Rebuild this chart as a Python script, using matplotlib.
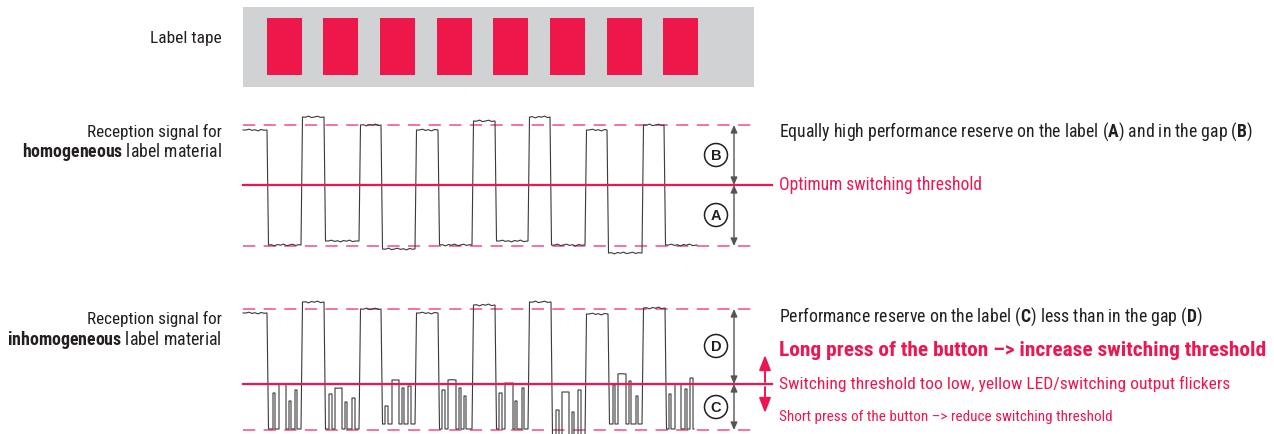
import matplotlib
matplotlib.use('Agg')
import matplotlib.pyplot as plt
from matplotlib import font_manager
from matplotlib.patches import Rectangle, Circle

# Schrift: schmale Helvetica-Variante, falls vorhanden
names = {f.name for f in font_manager.fontManager.ttflist}
FONT = next((n for n in ['Liberation Sans Narrow', 'Roboto Condensed', 'Roboto'] if n in names),
            'Liberation Sans')
plt.rcParams['font.family'] = [FONT, 'DejaVu Sans']
plt.rcParams['mathtext.fontset'] = 'custom'
plt.rcParams['mathtext.rm'] = FONT
plt.rcParams['mathtext.bf'] = FONT + ':bold'

RED = '#EE1651'
RED_DASH = '#F0507A'
BLACK = '#231F20'
GREY_TAPE = '#D1D2D4'
GREY_DIM = '#555555'

# ---- Daten (Pixelkoordinaten des Schemas) ----
tape_x = [243, 754]
tape_y = [8, 88]
label_left = [267, 323, 380, 437, 493, 550, 607, 663]
label_width = 35
label_y = [19, 76]

# homogenes Material: Stufen (x, Pegel)
homog_x = [243, 267, 301, 324, 359, 381, 415, 438, 472, 495, 528, 550, 585, 607, 642, 664]
homog_y = [131, 246, 118, 242, 126, 250, 131, 246, 122, 242, 118, 246, 131, 254, 126, 246]
homog_end = 697
homog_gap, homog_thr, homog_label = 126, 186, 247

# inhomogenes Material
inhom_x = [243, 267, 273, 275, 279, 286, 289, 291, 295, 297,
           301, 324, 329, 332, 335, 342, 345, 347, 352, 355,
           359, 381, 385, 388, 392, 399, 402, 404, 408, 411,
           415, 438, 442, 445, 448, 456, 459, 461, 464, 466,
           472, 495, 499, 502, 505, 513, 515, 517, 522, 524,
           528, 551, 556, 559, 562, 569, 572, 574, 578, 581,
           585, 608, 613, 615, 618, 626, 629, 631, 636, 638,
           642, 665, 669, 671, 675, 681, 685, 687, 690, 693]
inhom_y = [314, 430, 394, 430, 385, 430, 402, 430, 391, 430,
           303, 430, 395, 430, 389, 430, 403, 430, 399, 430,
           310, 425, 407, 425, 381, 425, 389, 425, 387, 425,
           314, 430, 391, 430, 381, 430, 389, 430, 397, 430,
           306, 430, 394, 430, 384, 430, 402, 430, 389, 430,
           303, 438, 411, 438, 393, 438, 413, 438, 391, 438,
           315, 425, 386, 425, 375, 425, 382, 425, 397, 425,
           309, 430, 395, 430, 385, 430, 390, 430, 379, 430]
inhom_end = 694
inhom_gap, inhom_thr, inhom_label = 310, 385, 431

WIGGLE = [0, -0.8, 0.4, -0.3, 0.9, -0.5, 0.2, -0.9, 0.6]

fig = plt.figure(figsize=(12.74, 4.35), dpi=100)
ax = fig.add_axes([0, 0, 1, 1])
ax.set_xlim(0, 1274)
ax.set_ylim(435, 0)
ax.axis('off')
R = fig.canvas.get_renderer()


def trace(xs, ys, x_end):
    px, py = [], []
    for i, (x0, y) in enumerate(zip(xs, ys)):
        x1 = xs[i + 1] if i + 1 < len(xs) else x_end
        lean = 1.5 if i > 0 and abs(y - ys[i - 1]) > 60 else 0
        start = x0 + lean
        px.append(start); py.append(y)
        if x1 - start > 6:
            xx, k = start + 3, 0
            while xx < x1 - 2:
                px.append(xx); py.append(y + WIGGLE[(i * 3 + k) % len(WIGGLE)])
                xx += 3; k += 1
        px.append(x1); py.append(y)
    return px, py


def put(x, y, s, width, color=BLACK, weight='normal', ha='left', guess=11):
    t = ax.text(x, y, s, fontsize=guess, color=color, fontweight=weight, ha=ha, va='baseline')
    w = t.get_window_extent(renderer=R).width
    t.set_fontsize(guess * width / w)
    return t


def dim(x, y0, y1):
    ax.annotate('', xy=(x, y0), xytext=(x, y1),
                arrowprops=dict(arrowstyle='<|-|>,head_length=0.45,head_width=0.2',
                                color=GREY_DIM, lw=1, shrinkA=0, shrinkB=0))


def badge(x, y, s):
    ax.add_patch(Circle((x, y), 11.5, facecolor='white', edgecolor=BLACK, lw=1.1, zorder=4))
    ax.text(x, y + 0.5, s, fontsize=10.5, fontweight='bold', family='Liberation Sans',
            color=BLACK, ha='center', va='center', zorder=5)


# ---- Etikettenband ----
ax.add_patch(Rectangle((tape_x[0], tape_y[0]), tape_x[1] - tape_x[0], tape_y[1] - tape_y[0],
                       facecolor=GREY_TAPE, edgecolor='none'))
for lx in label_left:
    ax.add_patch(Rectangle((lx, label_y[0]), label_width, label_y[1] - label_y[0],
                           facecolor='#EE1749', edgecolor='none'))

# ---- Signale ----
for gap, thr, lab, xs, ys, end in [(homog_gap, homog_thr, homog_label, homog_x, homog_y, homog_end),
                                   (inhom_gap, inhom_thr, inhom_label, inhom_x, inhom_y, inhom_end)]:
    ax.plot([243, 757], [gap, gap], color=RED_DASH, lw=1.1, dashes=(8, 5.5))
    ax.plot([243, 757], [lab, lab], color=RED_DASH, lw=1.1, dashes=(8, 5.5))
    ax.plot([243, 772], [thr, thr], color=RED, lw=1.6, zorder=3)
    px, py = trace(xs, ys, end)
    ax.plot(px, py, color='#3a3a3a', lw=0.8, zorder=2)
    dim(734, gap, thr)
    dim(734, thr, lab)

badge(716, 156, 'B')
badge(716, 216, 'A')
badge(716, 347, 'D')
badge(716, 408, 'C')

# rote Pfeile (Schaltschwelle verstellen)
ax.annotate('', xy=(765, 356), xytext=(765, 383),
            arrowprops=dict(arrowstyle='-|>,head_length=0.9,head_width=0.35',
                            color=RED, lw=1.4, shrinkA=0, shrinkB=0))
ax.annotate('', xy=(765, 414), xytext=(765, 388),
            arrowprops=dict(arrowstyle='-|>,head_length=0.9,head_width=0.35',
                            color=RED, lw=1.4, shrinkA=0, shrinkB=0))

# ---- Texte links ----
put(222, 43, 'Label tape', 71, ha='right')
put(222, 137, 'Reception signal for', 135, ha='right')
put(222, 157, r'$\bf{homogeneous}$ label material', 200, ha='right')
put(222, 324, 'Reception signal for', 135, ha='right')
put(222, 345, r'$\bf{inhomogeneous}$ label material', 215, ha='right')

# ---- Texte rechts ----
put(779, 137, r'Equally high performance reserve on the label ($\bf{A}$) and in the gap ($\bf{B}$)', 473)
put(779, 190, 'Optimum switching threshold', 202, color=RED)
put(779, 322, r'Performance reserve on the label ($\bf{C}$) less than in the gap ($\bf{D}$)', 422)
put(779, 356, 'Long press of the button –> increase switching threshold', 486, color=RED, weight='bold')
put(779, 389, 'Switching threshold too low, yellow LED/switching output flickers', 449, color=RED)
put(779, 421, 'Short press of the button –> reduce switching threshold', 331, color=RED)

fig.savefig('out.png', dpi=100)
